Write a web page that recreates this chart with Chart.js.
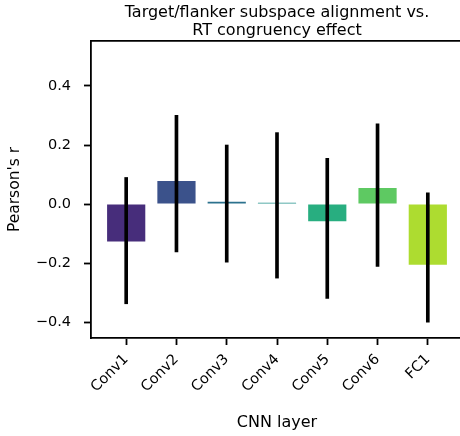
<!DOCTYPE html>
<html>
<head>
<meta charset="utf-8">
<script src="https://cdn.jsdelivr.net/npm/chart.js@4.4.1/dist/chart.umd.min.js"></script>
<style>
  html, body { margin: 0; padding: 0; overflow: hidden; background: #fff; }
  #wrap { width: 472px; height: 436px; }
</style>
</head>
<body>
<div id="wrap"><canvas id="c" width="472" height="436"></canvas></div>
<script>
const categories = ['Conv1', 'Conv2', 'Conv3', 'Conv4', 'Conv5', 'Conv6', 'FC1'];
const means = [-0.127, 0.078, 0.008, 0.004, -0.058, 0.054, -0.206];
const ciLow = [-0.338, -0.162, -0.197, -0.251, -0.320, -0.211, -0.400];
const ciHigh = [0.090, 0.301, 0.200, 0.242, 0.155, 0.272, 0.038];
const barColors = ['#472d7b', '#3b528b', '#2c728e', '#21918c', '#28ae80', '#5ec962', '#addc30'];
const yTicks = [-0.4, -0.2, 0.0, 0.2, 0.4];
const titleLines = ['Target/flanker subspace alignment vs.', 'RT congruency effect'];

const FONT = 'DejaVu Sans';
const fmt = v => (v < 0 ? '\u2212' : '') + Math.abs(v).toFixed(1);

new Chart(document.getElementById('c'), {
  type: 'bar',
  data: {
    datasets: [
      {
        label: 'error',
        data: categories.map((c, i) => ({ x: i, y: [ciLow[i], ciHigh[i]] })),
        backgroundColor: '#000',
        barThickness: 3,
        grouped: false,
        order: 0
      },
      {
        label: 'mean',
        data: categories.map((c, i) => ({ x: i, y: means[i] })),
        backgroundColor: barColors,
        borderWidth: 0,
        categoryPercentage: 1,
        barPercentage: 0.76,
        grouped: false,
        order: 1
      }
    ]
  },
  options: {
    responsive: false,
    animation: false,
    events: [],
    layout: { padding: { left: 0, right: 9, top: 0, bottom: 0 } },
    plugins: {
      legend: { display: false },
      tooltip: { enabled: false },
      title: { display: false }
    },
    scales: {
      x: {
        type: 'linear',
        position: 'bottom',
        min: -0.7,
        max: 6.7,
        offset: false,
        afterBuildTicks: s => { s.ticks = categories.map((c, i) => ({ value: i })); },
        afterFit: s => { s.height = 98; s.paddingLeft = 0; s.paddingRight = 0; },
        ticks: {
          autoSkip: false,
          minRotation: 45,
          maxRotation: 45,
          padding: 6,
          color: '#000',
          font: { family: FONT, size: 14.5 },
          callback: v => categories[v]
        },
        grid: { offset: false, drawOnChartArea: false, drawTicks: true, tickLength: 7, tickWidth: 1.8, tickColor: '#000' },
        border: { display: true, color: '#000', width: 1.8 },
        title: {
          display: true,
          text: 'CNN layer',
          color: '#000',
          font: { family: FONT, size: 16 },
          padding: { top: 0, bottom: 4 }
        }
      },
      x2: {
        type: 'linear',
        position: 'top',
        min: -0.7,
        max: 6.7,
        afterFit: s => { s.height = 41; s.paddingLeft = 0; s.paddingRight = 0; },
        ticks: { display: false },
        grid: { offset: false, drawOnChartArea: false, drawTicks: false },
        border: { display: true, color: '#000', width: 1.8 },
        title: {
          display: true,
          text: titleLines,
          color: '#000',
          font: { family: FONT, size: 16, lineHeight: 1.1 },
          padding: { top: 4.5, bottom: 0 }
        }
      },
      y: {
        type: 'linear',
        position: 'left',
        min: -0.454,
        max: 0.5525,
        afterBuildTicks: s => { s.ticks = yTicks.map(v => ({ value: v })); },
        afterFit: s => { s.width = 91; s.paddingTop = 0; s.paddingBottom = 0; },
        ticks: {
          padding: 13,
          color: '#000',
          font: { family: FONT, size: 14.5 },
          callback: v => fmt(v)
        },
        grid: { drawOnChartArea: false, drawTicks: true, tickLength: 7, tickWidth: 1.8, tickColor: '#000' },
        border: { display: true, color: '#000', width: 1.8 },
        title: {
          display: true,
          text: "Pearson's r",
          color: '#000',
          font: { family: FONT, size: 15.5 },
          padding: { top: 5.5, bottom: 0 }
        }
      }
    }
  }
});
</script>
</body>
</html>
